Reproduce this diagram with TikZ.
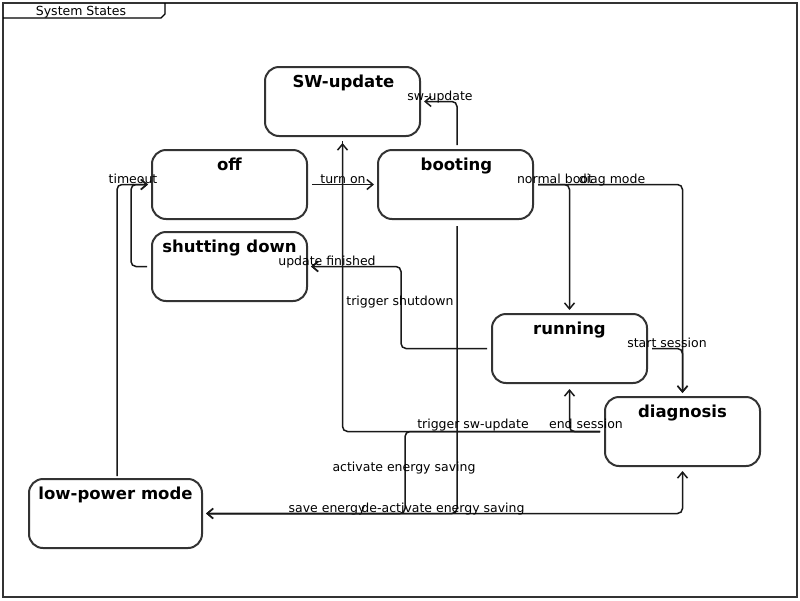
\documentclass[tikz,border=0pt]{standalone}
\usepackage{fontspec}
\setmainfont{DejaVu Sans}
\usetikzlibrary{arrows.meta,calc}
\definecolor{edgegray}{HTML}{333333}
\begin{document}
\begin{tikzpicture}[x=1pt,y=-1pt,
  every node/.style={inner sep=0pt},
  state/.style={draw=edgegray, line width=2pt, rounded corners=14pt,
    minimum width=155pt, minimum height=69pt, inner sep=0pt},
  title/.style={anchor=base, font=\fontsize{16.5}{18}\selectfont\bfseries},
  lbl/.style={anchor=base, font=\fontsize{12.5}{14}\selectfont},
  conn/.style={draw=black!90, line width=1.5pt, rounded corners=5pt,
    shorten <=4pt, shorten >=3pt,
    -{Straight Barb[length=6pt,width=10pt,line width=1.5pt]}}
]
\useasboundingbox (0,0) rectangle (800,600);

% diagram frame with its name tab
\draw[edgegray, line width=2pt] (3,3) rectangle (797,597);
\draw[black, line width=1.4pt] (3,18) -- (161,18) -- (165,14) -- (165,3);
\node[lbl] (frameName) at (81,15) {System States};

% states
\node[state] (sw)   at (342.5,101.5) {};
\node[state] (off)  at (229.5,184.5) {};
\node[state] (boot) at (455.5,184.5) {};
\node[state] (shut) at (229.5,266.5) {};
\node[state] (run)  at (569.5,348.5) {};
\node[state] (diag) at (682.5,431.5) {};
\node[state, minimum width=173pt] (lp) at (115.5,513.5) {};

\node[title] (swT)   at ([xshift=1pt,yshift=-21pt]sw.north)  {SW-update};
\node[title] (offT)  at ([yshift=-21pt]off.north)  {off};
\node[title] (bootT) at ([xshift=1pt,yshift=-21pt]boot.north) {booting};
\node[title] (shutT) at ([yshift=-21pt]shut.north) {shutting down};
\node[title] (runT)  at ([yshift=-21pt]run.north)  {running};
\node[title] (diagT) at ([yshift=-21pt]diag.north) {diagnosis};
\node[title] (lpT)   at ([yshift=-21pt]lp.north)   {low-power mode};

% transitions
\draw[conn] (off.east) -- (boot.west)
  node[lbl] at (343,183) {turn on};
\draw[conn] ([xshift=1.5pt]boot.north) |- (sw.east)
  node[lbl] at (440,100) {sw-update};
\draw[conn] (boot.east) -| (run.north)
  node[lbl] at (555,183) {normal boot};
\draw[conn] (boot.east) -| (diag.north)
  node[lbl] at (612,183) {diag mode};
\draw[conn, shorten <=6pt] ([xshift=1.5pt]boot.south) |- (lp.east)
  node[lbl] at (327,512) {save energy};
\draw[conn] (run.east) -| (diag.north)
  node[lbl] at (667,347) {start session};
\draw[conn] (run.west) -| ([xshift=93pt]shut.east) -- (shut.east)
  node[lbl] at (400,305) {trigger shutdown};
\draw[conn, sharp corners] (sw.south) |- (shut.east)
  node[lbl] at (327,265) {update finished};
\draw[conn] (diag.west) -| ([yshift=-2pt]run.south)
  node[lbl] at (586,428) {end session};
\draw[conn] (diag.west) -| ([yshift=-3pt]sw.south)
  node[lbl] at (473,428) {trigger sw-update};
\draw[conn] (diag.west) -| ([xshift=202pt]lp.east) -- (lp.east)
  node[lbl] at (404,471) {activate energy saving};
\draw[conn, shorten <=2pt] ([xshift=1.5pt]lp.north) |- (off.west)
  node[lbl] at (133,183) {timeout};
\draw[conn] (lp.east) -| ([yshift=-1pt]diag.south)
  node[lbl] at (443,512) {de-activate energy saving};
\draw[conn] (shut.west) -| ([xshift=-20pt]off.west) -- (off.west);
\end{tikzpicture}
\end{document}
